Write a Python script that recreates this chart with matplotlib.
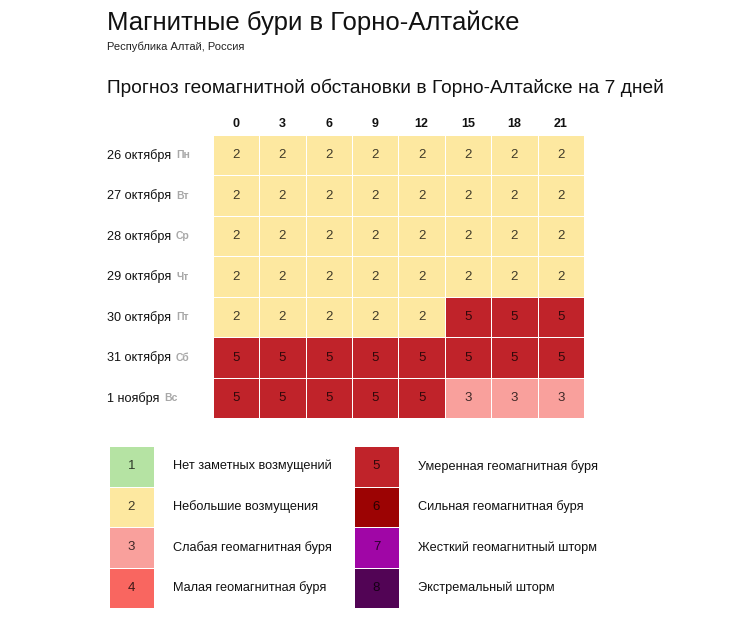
import numpy as np
import matplotlib
matplotlib.use("Agg")
from matplotlib import pyplot as plt
from matplotlib.colors import ListedColormap, BoundaryNorm
from matplotlib.transforms import blended_transform_factory

plt.rcParams['font.family'] = ['Liberation Sans', 'DejaVu Sans']

# data
hours = ["0", "3", "6", "9", "12", "15", "18", "21"]
dates = ["26 октября", "27 октября", "28 октября", "29 октября",
         "30 октября", "31 октября", "1 ноября"]
weekdays = ["Пн", "Вт", "Ср", "Чт", "Пт", "Сб", "Вс"]
kp = [
    [2, 2, 2, 2, 2, 2, 2, 2],
    [2, 2, 2, 2, 2, 2, 2, 2],
    [2, 2, 2, 2, 2, 2, 2, 2],
    [2, 2, 2, 2, 2, 2, 2, 2],
    [2, 2, 2, 2, 2, 5, 5, 5],
    [5, 5, 5, 5, 5, 5, 5, 5],
    [5, 5, 5, 5, 5, 3, 3, 3],
]
levels = [1, 2, 3, 4, 5, 6, 7, 8]
level_names = ["Нет заметных возмущений", "Небольшие возмущения",
               "Слабая геомагнитная буря", "Малая геомагнитная буря",
               "Умеренная геомагнитная буря", "Сильная геомагнитная буря",
               "Жесткий геомагнитный шторм", "Экстремальный шторм"]
level_colors = ["#b5e3a3", "#fde8a0", "#f9a09c", "#f96660",
                "#c0232a", "#9c0303", "#a006a6", "#520455"]

W, H = 737, 627
cmap = ListedColormap(level_colors)
norm = BoundaryNorm(np.arange(0.5, 9.5), cmap.N)


def fx(px):
    return px / W


def fy(py):
    return 1 - py / H


fig = plt.figure(figsize=(W / 100, H / 100), dpi=100)

fig.text(fx(107), fy(30), "Магнитные бури в Горно-Алтайске", fontsize=18.5, color="#111111")
fig.text(fx(107), fy(50), "Республика Алтай, Россия", fontsize=8, color="#222222")
fig.text(fx(107), fy(93), "Прогноз геомагнитной обстановки в Горно-Алтайске на 7 дней",
         fontsize=13.8, color="#111111")

# main grid
gl, gr, gt, gb = 212.8, 584, 134.8, 418.3
ax = fig.add_axes([fx(gl), fy(gb), (gr - gl) / W, (gb - gt) / H])
arr = np.array(kp)
ax.pcolormesh(arr, cmap=cmap, norm=norm, edgecolors="white", linewidth=0.6)
ax.set_xlim(0, len(hours))
ax.set_ylim(len(dates), 0)
ax.axis("off")
for i in range(arr.shape[0]):
    for j in range(arr.shape[1]):
        ax.text(j + 0.5, i + 0.5, str(arr[i, j]), ha="center", va="center",
                fontsize=9.5, color="black", alpha=0.75)

top = blended_transform_factory(ax.transData, fig.transFigure)
for j, h in enumerate(hours):
    ax.text(j + 0.5, fy(124), h, transform=top, ha="center", va="center",
            fontsize=9, fontweight="bold", color="#111111")

left = blended_transform_factory(fig.transFigure, ax.transData)
for i, (d, wd) in enumerate(zip(dates, weekdays)):
    t = ax.text(fx(107), i + 0.5, d, transform=left, ha="left", va="center",
                fontsize=9.1, color="#111111")
    ax.annotate(wd, xy=(1, 0.5), xycoords=t, xytext=(3.5, 0), textcoords="offset points",
                ha="left", va="center", fontsize=7.5, fontweight="bold", color="#a8a8a8")

# legend
lt, lb = 446, 608
for k, xl in enumerate([109, 354]):
    lax = fig.add_axes([fx(xl), fy(lb), 45 / W, (lb - lt) / H])
    col = np.array(levels[k * 4:(k + 1) * 4]).reshape(4, 1)
    lax.pcolormesh(col, cmap=cmap, norm=norm, edgecolors="white", linewidth=0.6)
    lax.set_xlim(0, 1)
    lax.set_ylim(4, 0)
    lax.axis("off")
    for r in range(4):
        lv = col[r, 0]
        lax.text(0.5, r + 0.5, str(lv), ha="center", va="center",
                 fontsize=9.5, color="black", alpha=0.75)
        lax.annotate(level_names[lv - 1], xy=(1, r + 0.5), xycoords="data",
                     xytext=(14, 0), textcoords="offset points",
                     ha="left", va="center", fontsize=9.2, color="#111111")

fig.savefig("out.png", dpi=100, facecolor="white")
